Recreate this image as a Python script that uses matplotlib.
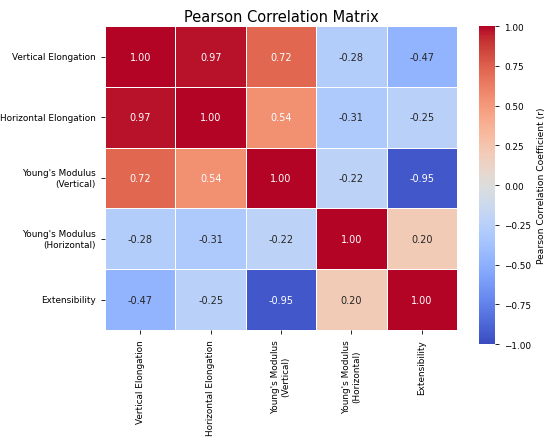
import matplotlib
matplotlib.use("Agg")
import matplotlib.pyplot as plt
import numpy as np
import pandas as pd
import seaborn as sns

labels = ["Vertical Elongation", "Horizontal Elongation",
          "Young's Modulus\n(Vertical)", "Young's Modulus\n(Horizontal)",
          "Extensibility"]

corr_values = [
    [1.00, 0.97, 0.72, -0.28, -0.47],
    [0.97, 1.00, 0.54, -0.31, -0.25],
    [0.72, 0.54, 1.00, -0.22, -0.95],
    [-0.28, -0.31, -0.22, 1.00, 0.20],
    [-0.47, -0.25, -0.95, 0.20, 1.00],
]

corr = pd.DataFrame(np.array(corr_values), index=labels, columns=labels)

fig = plt.figure(figsize=(5.5, 4.39), dpi=100)
ax = fig.add_axes([0.191, 0.246, 0.640, 0.692])
cax = fig.add_axes([0.871, 0.214, 0.029, 0.724])

sns.heatmap(corr, ax=ax, cbar_ax=cax, cmap="coolwarm", vmin=-1, vmax=1,
            annot=True, fmt=".2f", linewidths=0.5, linecolor="white",
            annot_kws={"fontsize": 7},
            cbar_kws={"label": "Pearson Correlation Coefficient (r)"})

ax.set_title("Pearson Correlation Matrix", fontsize=10.5, pad=4)
ax.tick_params(axis="both", labelsize=6.4, length=3, width=0.6)
plt.setp(ax.get_xticklabels(), rotation=90, ha="center")
plt.setp(ax.get_yticklabels(), rotation=0)
cax.tick_params(labelsize=6.4, length=3, width=0.6)
cax.yaxis.label.set_size(6.6)

fig.savefig("out.png", dpi=100)
